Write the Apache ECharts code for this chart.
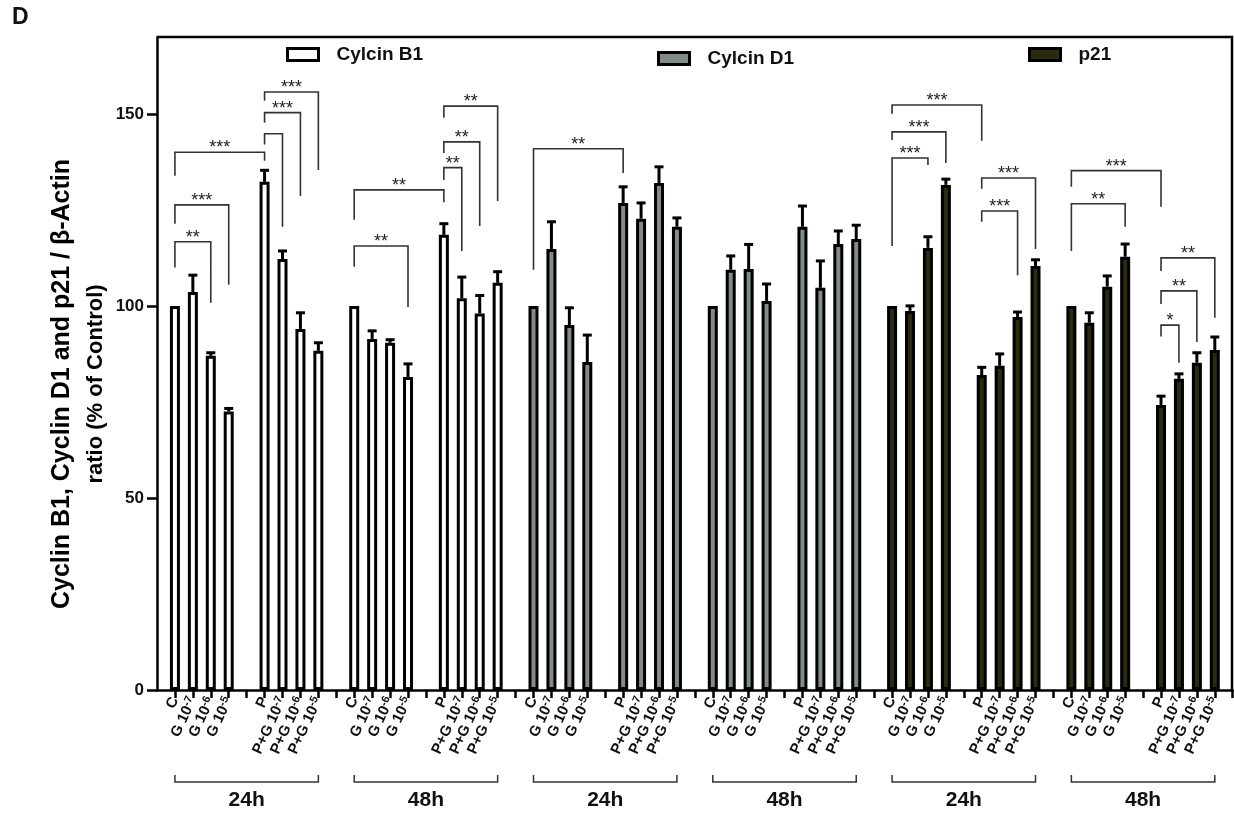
<!DOCTYPE html>
<html>
<head>
<meta charset="utf-8">
<script src="https://cdn.jsdelivr.net/npm/echarts@6/dist/echarts.min.js"></script>
<style>
  html, body { margin: 0; padding: 0; background: #fff; }
  #chart { width: 1234px; height: 824px; }
</style>
</head>
<body>
<div id="chart"></div>
<script>
// labels of one time block (4 bars, gap, 4 bars, gap)
const blockLabels = ['C', 'G 10-7', 'G 10-6', 'G 10-5', '', 'P', 'P+G 10-7', 'P+G 10-6', 'P+G 10-5', ''];
const barSlots = [0, 1, 2, 3, 5, 6, 7, 8];
const timeLabels = ['24h', '48h', '24h', '48h', '24h', '48h'];
const seriesNames = ['Cylcin B1', 'Cylcin D1', 'p21'];
const seriesColors = ['#ffffff', '#808c85', '#2d2a0e'];

// 24h then 48h, order C, G-7, G-6, G-5, P, P+G-7, P+G-6, P+G-5
const cyclinB1 = [100, 103.6, 87, 72.5, 132.3, 112.2, 94, 88.3, 100, 91.4, 90.4, 81.5, 118.5, 102, 98, 106];
const cyclinB1Err = [0, 4.4, 0.8, 0.8, 3, 2.1, 4.2, 2.1, 0, 2.1, 0.8, 3.4, 2.9, 5.5, 4.7, 2.9];
const cyclinD1 = [100, 114.8, 95, 85.4, 126.8, 122.7, 132, 120.6, 100, 109.4, 109.6, 101.3, 120.6, 104.7, 116.1, 117.4];
const cyclinD1Err = [0, 7.1, 4.5, 7, 4.2, 4.1, 4.2, 2.3, 0, 3.6, 6.4, 4.4, 5.4, 7, 3.4, 3.6];
const p21 = [100, 98.7, 115.1, 131.5, 82, 84.4, 97.1, 110.4, 100, 95.6, 105, 112.8, 74.2, 81, 85.2, 88.5];
const p21Err = [0, 1.3, 2.9, 1.5, 2, 3.1, 1.3, 1.6, 0, 2.6, 2.8, 3.3, 2.3, 1.3, 2.6, 3.4];

const yTicks = [0, 50, 100, 150];

// [block, fromSlot, toSlot, barValue, leftLegEnd, rightLegEnd, stars]
const sigBrackets = [
  [0, 0, 2, 116.7, 110, 100.8, '**'],
  [0, 0, 3, 126.3, 121.4, 105.5, '***'],
  [0, 0, 5, 140, 133.9, 137.8, '***'],
  [0, 5, 6, 144.8, 142, 120.6, ''],
  [0, 5, 7, 150.3, 147.7, 128.6, '***'],
  [0, 5, 8, 155.7, 153.4, 135.4, '***'],
  [1, 0, 3, 115.6, 110.2, 99.7, '**'],
  [1, 0, 5, 130.2, 122.4, 127, '**'],
  [1, 5, 6, 136, 132.8, 114.3, '**'],
  [1, 5, 7, 142.7, 139.8, 120.8, '**'],
  [1, 5, 8, 152, 149, 127.3, '**'],
  [2, 0, 5, 140.9, 109.4, 134.6, '**'],
  [4, 0, 2, 138.5, 115.6, 136.7, '***'],
  [4, 0, 3, 145.3, 143.2, 137.2, '***'],
  [4, 0, 5, 152.3, 150, 143, '***'],
  [4, 5, 7, 124.7, 121.9, 108, '***'],
  [4, 5, 8, 133.3, 130.5, 114.8, '***'],
  [5, 0, 3, 126.6, 114.3, 120.6, '**'],
  [5, 0, 5, 135.2, 131, 125.8, '***'],
  [5, 5, 6, 95, 92, 85.2, '*'],
  [5, 5, 7, 103.9, 100.5, 90.6, '**'],
  [5, 5, 8, 112.5, 109.1, 96.9, '**']
];

const font = '"Liberation Sans", Arial, sans-serif';

const categories = [''];
timeLabels.forEach(() => categories.push(...blockLabels));

function catIndex(block, slot) {
  return 1 + block * 10 + slot;
}

function barData(values, firstBlock) {
  const out = categories.map(() => '-');
  values.forEach((v, i) => {
    out[catIndex(firstBlock + Math.floor(i / 8), barSlots[i % 8])] = v;
  });
  return out;
}

function errData(values, errs, firstBlock) {
  return values
    .map((v, i) => [catIndex(firstBlock + Math.floor(i / 8), barSlots[i % 8]), v, errs[i]])
    .filter(d => d[2] > 0);
}

function renderErr(params, api) {
  const base = api.coord([api.value(0), api.value(1)]);
  const top = api.coord([api.value(0), api.value(1) + api.value(2)]);
  const st = { stroke: '#000', lineWidth: 3 };
  return {
    type: 'group',
    children: [
      { type: 'line', shape: { x1: base[0], y1: base[1], x2: top[0], y2: top[1] }, style: st },
      { type: 'line', shape: { x1: top[0] - 4.5, y1: top[1], x2: top[0] + 4.5, y2: top[1] }, style: st }
    ]
  };
}

function renderSig(params, api) {
  const b = sigBrackets[params.dataIndex];
  const x1 = catIndex(b[0], b[1]);
  const x2 = catIndex(b[0], b[2]);
  const pL = api.coord([x1, b[4]]);
  const pTL = api.coord([x1, b[3]]);
  const pTR = api.coord([x2, b[3]]);
  const pR = api.coord([x2, b[5]]);
  const children = [{
    type: 'polyline',
    shape: { points: [pL, pTL, pTR, pR] },
    style: { stroke: '#333', lineWidth: 1.6, fill: null }
  }];
  if (b[6]) {
    children.push({
      type: 'text',
      x: (pTL[0] + pTR[0]) / 2,
      y: pTL[1] + 5,
      style: { text: b[6], textAlign: 'center', textVerticalAlign: 'bottom', fontSize: 18, fontFamily: font, fill: '#222' }
    });
  }
  return { type: 'group', children };
}

function renderGroup(params, api) {
  const block = params.dataIndex;
  const a = api.coord([catIndex(block, 0) - 0.5, 0]);
  const b = api.coord([catIndex(block, 8) - 0.15, 0]);
  const y = a[1] + 92;
  return {
    type: 'group',
    children: [
      {
        type: 'polyline',
        shape: { points: [[a[0], y - 7], [a[0], y], [b[0], y], [b[0], y - 7]] },
        style: { stroke: '#333', lineWidth: 1.5, fill: null }
      },
      {
        type: 'text',
        x: (a[0] + b[0]) / 2,
        y: y + 18,
        style: { text: timeLabels[block], textAlign: 'center', textVerticalAlign: 'middle', fontSize: 21, fontWeight: 'bold', fontFamily: font, fill: '#111' }
      }
    ]
  };
}

const chart = echarts.init(document.getElementById('chart'));

const legendLeft = [286, 657, 1028];
const legendTop = [45, 49, 45];

chart.setOption({
  animation: false,
  grid: { left: 157, right: -4, top: 37, bottom: 134 },
  legend: seriesNames.map((n, i) => ({
    data: [n],
    left: legendLeft[i],
    top: legendTop[i],
    padding: 0,
    icon: 'rect',
    itemWidth: 31,
    itemHeight: 12,
    selectedMode: false,
    itemStyle: { borderColor: '#000', borderWidth: 3 },
    textStyle: { fontSize: 19, fontWeight: 'bold', color: '#111', fontFamily: font, padding: [0, 0, 0, 13] }
  })),
  xAxis: {
    type: 'category',
    data: categories,
    boundaryGap: false,
    axisLine: { lineStyle: { color: '#000', width: 2.5 } },
    axisTick: { interval: (i) => i > 0, length: 8, lineStyle: { color: '#000', width: 2.5 } },
    axisLabel: {
      interval: 0, rotate: 65, margin: 8, fontSize: 15, fontWeight: 'bold', color: '#111', fontFamily: font,
      formatter: (v) => v.replace(/ 10(-\d)$/, ' 10{s|$1}'),
      rich: {
        s: { fontSize: 11, fontWeight: 'bold', color: '#111', fontFamily: font, verticalAlign: 'top', lineHeight: 17 }
      }
    },
    splitLine: { show: false }
  },
  yAxis: {
    type: 'value',
    min: 0,
    max: 170,
    interval: 50,
    axisLine: { show: true, lineStyle: { color: '#000', width: 2.5 } },
    axisTick: { show: true, length: 10, customValues: yTicks, lineStyle: { color: '#000', width: 2.5 } },
    axisLabel: { margin: 13, customValues: yTicks, fontSize: 17, fontWeight: 'bold', color: '#111', fontFamily: font },
    splitLine: { show: false }
  },
  graphic: [
    { type: 'text', left: 12, top: 6, style: { text: 'D', fontSize: 23, fontWeight: 'bold', fontFamily: font, fill: '#111' } },
    {
      type: 'text', x: 79, y: 384, rotation: Math.PI / 2,
      style: {
        text: '{a|Cyclin B1, Cyclin D1 and p21 / β-Actin}\n{b|ratio (% of Control)}',
        textAlign: 'center', textVerticalAlign: 'middle',
        rich: {
          a: { fontSize: 25, fontWeight: 'bold', fontFamily: font, color: '#111', lineHeight: 33 },
          b: { fontSize: 22, fontWeight: 'bold', fontFamily: font, color: '#111', lineHeight: 33 }
        }
      }
    },
    { type: 'polyline', shape: { points: [[157, 37], [1232, 37], [1232, 690]] }, style: { stroke: '#000', lineWidth: 2.5, fill: null } }
  ],
  series: [
    { name: seriesNames[0], type: 'bar', barWidth: 10, barGap: '-100%', data: barData(cyclinB1, 0),
      itemStyle: { color: seriesColors[0], borderColor: '#000', borderWidth: 3 } },
    { name: seriesNames[1], type: 'bar', barWidth: 10, barGap: '-100%', data: barData(cyclinD1, 2),
      itemStyle: { color: seriesColors[1], borderColor: '#000', borderWidth: 3 } },
    { name: seriesNames[2], type: 'bar', barWidth: 10, barGap: '-100%', data: barData(p21, 4),
      itemStyle: { color: seriesColors[2], borderColor: '#000', borderWidth: 3 } },
    { type: 'custom', renderItem: renderErr, encode: { x: 0, y: 1 }, z: 3,
      data: [].concat(errData(cyclinB1, cyclinB1Err, 0), errData(cyclinD1, cyclinD1Err, 2), errData(p21, p21Err, 4)) },
    { type: 'custom', renderItem: renderSig, encode: { x: 0, y: 1 }, z: 3,
      data: sigBrackets.map(b => [catIndex(b[0], b[1]), b[3]]) },
    { type: 'custom', renderItem: renderGroup, encode: { x: 0, y: 1 }, clip: false, z: 3,
      data: timeLabels.map((t, i) => [catIndex(i, 0), 0]) }
  ]
});
</script>
</body>
</html>
